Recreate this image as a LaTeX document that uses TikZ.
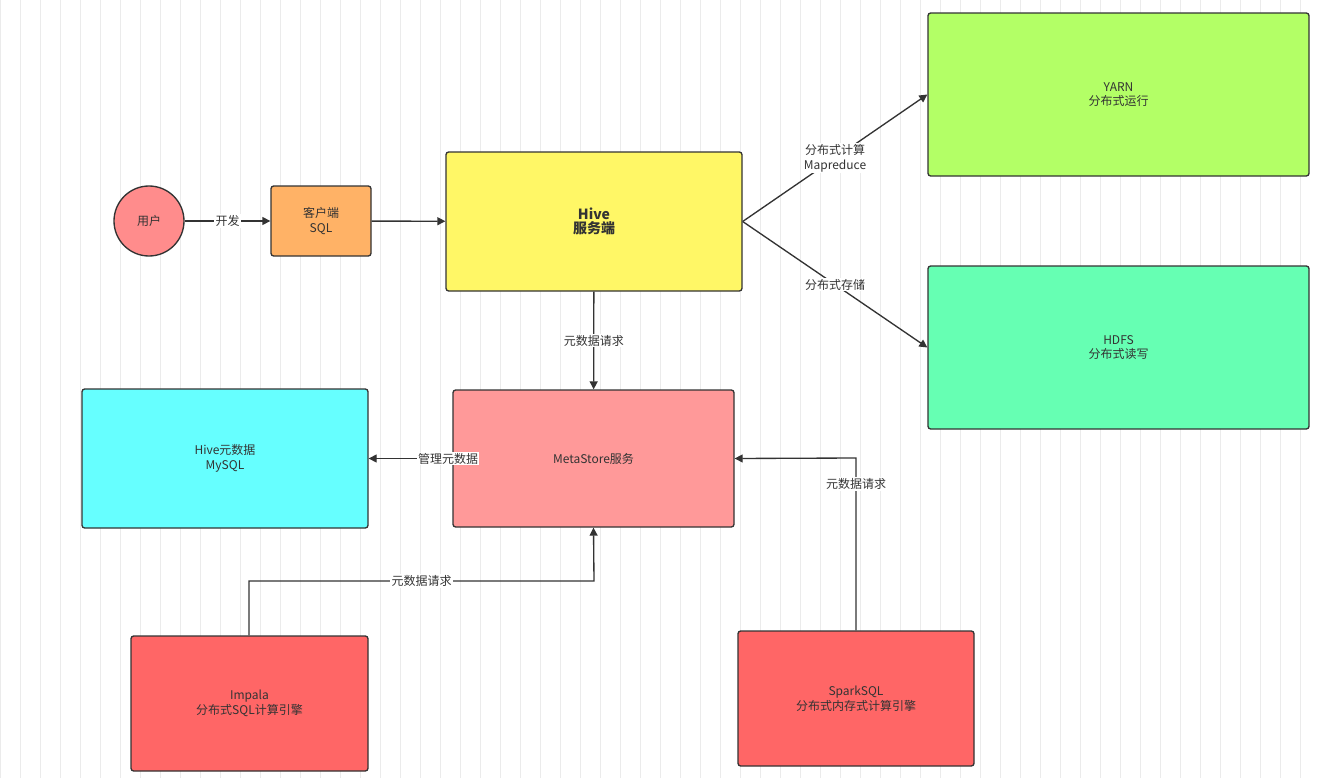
\documentclass[tikz,border=0pt]{standalone}
\usepackage{fontspec}
\setmainfont{Noto Sans CJK SC}
\usetikzlibrary{arrows.meta}
\begin{document}
\begin{tikzpicture}[x=0.75pt,y=-0.75pt,
  box/.style={draw=black!80,line width=1pt,rounded corners=2pt,align=center,font=\fontsize{9}{11}\selectfont,text=black!80,inner sep=0pt},
  conn/.style={draw=black!80,line width=1pt,-{Triangle[length=6pt,width=6pt]}},
  lab/.style={fill=white,font=\fontsize{9}{11}\selectfont,text=black!80,inner sep=1pt,align=center}]
\useasboundingbox (0,0) rectangle (1318,778);
\fill[white] (0,0) rectangle (1318,778);
\draw[black!8,line width=0.4pt] (0,0) grid[step=20] (1318,778);
\def\bx#1#2#3#4#5#6#7{\node[box,fill=#6,minimum width=#4*0.75pt,minimum height=#5*0.75pt] (#1) at (#2,#3) {#7};}
\node[box,circle,fill=red!45!white,minimum size=70*0.75pt] (user) at (149,221) {用户};
\bx{client}{321}{221}{100}{70}{orange!60!white}{客户端\\SQL}
\bx{hive}{594}{221.5}{296}{139}{yellow!60!white}{\textbf{\fontsize{10.5}{13}\selectfont Hive}\\\textbf{\fontsize{10.5}{13}\selectfont 服务端}}
\definecolor{cyarn}{HTML}{B3FF66}\definecolor{chdfs}{HTML}{66FFB3}
\definecolor{cmeta}{HTML}{FF9999}\definecolor{cmysql}{HTML}{66FFFF}\definecolor{cred}{HTML}{FF6666}
\bx{yarn}{1118.5}{94.5}{381}{163}{cyarn}{YARN\\分布式运行}
\bx{hdfs}{1118.5}{347.5}{381}{163}{chdfs}{HDFS\\分布式读写}
\bx{meta}{593.5}{458.5}{281}{137}{cmeta}{MetaStore服务}
\bx{mysql}{225}{458.5}{286}{139}{cmysql}{Hive元数据\\MySQL}
\bx{impala}{249.5}{703.5}{237}{135}{cred}{Impala\\分布式SQL计算引擎}
\bx{spark}{856}{698.5}{236}{135}{cred}{SparkSQL\\分布式内存式计算引擎}
\draw[conn] (user) -- node[lab]{开发} (client);
\draw[conn] (client) -- (hive);
\draw[conn] (hive.east) -- node[lab,pos=0.5]{分布式计算\\Mapreduce} (yarn.west);
\draw[conn] (hive.east) -- node[lab,pos=0.5]{分布式存储} (hdfs.west);
\draw[conn] (hive) -- node[lab]{元数据请求} (meta);
\draw[conn] (meta) -- node[lab,pos=0.05]{管理元数据} (mysql);
\coordinate (i1) at (249,581); \coordinate (i2) at (594,581);
\draw[conn] (impala.north -| i1) -- (i1) -- node[lab,pos=0.5]{元数据请求} (i2) -- (meta.south);
\coordinate (s1) at (856,458);
\draw[conn] (spark.north) -- node[lab,pos=0.85]{元数据请求} (s1) -- (meta.east);
\end{tikzpicture}
\end{document}
